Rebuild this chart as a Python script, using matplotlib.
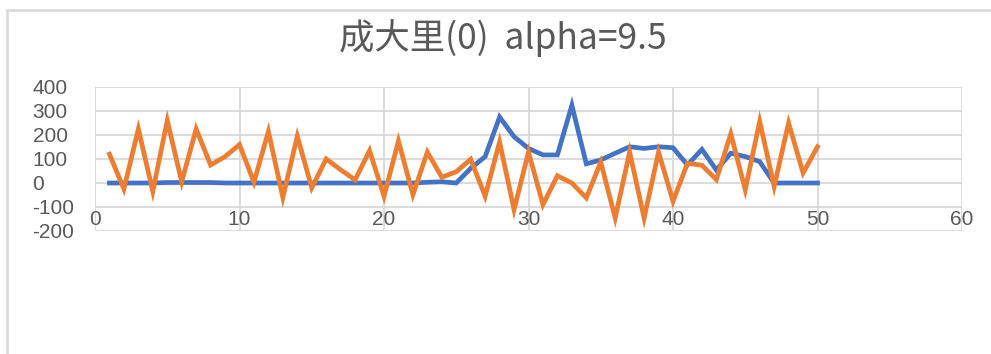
import matplotlib.pyplot as plt
from matplotlib.patches import Rectangle
from matplotlib.ticker import MultipleLocator

plt.rcParams["axes.unicode_minus"] = False

# series values, one point per step
steps = list(range(1, 51))
blue_vals = [0, 0, 0, 0, 2, 2, 2, 2, 0, 0,
             0, 0, 0, 0, 0, 0, 0, 0, 0, 0,
             0, 0, 3, 5, 0, 61, 110, 275, 193, 144,
             117, 117, 324, 80, 96, 124, 151, 144, 151, 147,
             75, 140, 54, 124, 110, 89, 0, 0, 0, 0]
orange_vals = [120, -25, 225, -35, 260, 5, 225, 75, 110, 160,
               3, 215, -60, 195, -20, 100, 55, 13, 135, -55,
               175, -49, 129, 24, 47, 99, -55, 171, -111, 129,
               -90, 30, 0, -62, 87, -146, 129, -146, 129, -76,
               82, 74, 14, 205, -28, 257, -14, 250, 42, 151]
title = "成大里(0)  alpha=9.5"

grid_col = "#D9D9D9"
text_col = "#595959"

fig = plt.figure(figsize=(9.91, 3.54), dpi=100)

# outer chart frame (runs off the right and bottom edges)
fig.patches.append(Rectangle((6.5 / 991, -0.1), 1.2, 1.1 - 10 / 354,
                             transform=fig.transFigure, fill=False,
                             edgecolor=grid_col, lw=1.8))

ax = fig.add_axes([95 / 991, 123 / 354, 867 / 991, 144 / 354])

ax.plot(steps, blue_vals, color="#4472C4", lw=3.4, solid_joinstyle="miter")
ax.plot(steps, orange_vals, color="#ED7D31", lw=3.4, solid_joinstyle="miter")

ax.set_xlim(0, 60)
ax.set_ylim(-200, 400)
ax.xaxis.set_major_locator(MultipleLocator(10))
ax.yaxis.set_major_locator(MultipleLocator(100))
ax.grid(True, color=grid_col, lw=1.3)
ax.set_axisbelow(True)

for s in ["top", "right", "left"]:
    ax.spines[s].set_visible(False)
# horizontal axis crosses at -100
ax.spines["bottom"].set_position(("data", -100))
ax.spines["bottom"].set_visible(False)

ax.tick_params(length=0, labelsize=15, labelcolor=text_col)
ax.tick_params(axis="x", pad=2)
ax.tick_params(axis="y", pad=45)
for lab in ax.get_yticklabels():
    lab.set_horizontalalignment("left")
    lab.set_fontfamily("Liberation Sans")
for lab in ax.get_xticklabels():
    lab.set_fontfamily("Liberation Sans")

fig.text(503 / 991, 1 - 38 / 354, title, ha="center", va="center",
         fontsize=25.5, color=text_col,
         family=["Noto Sans CJK TC", "DejaVu Sans"])

fig.savefig("out.png", dpi=100)
